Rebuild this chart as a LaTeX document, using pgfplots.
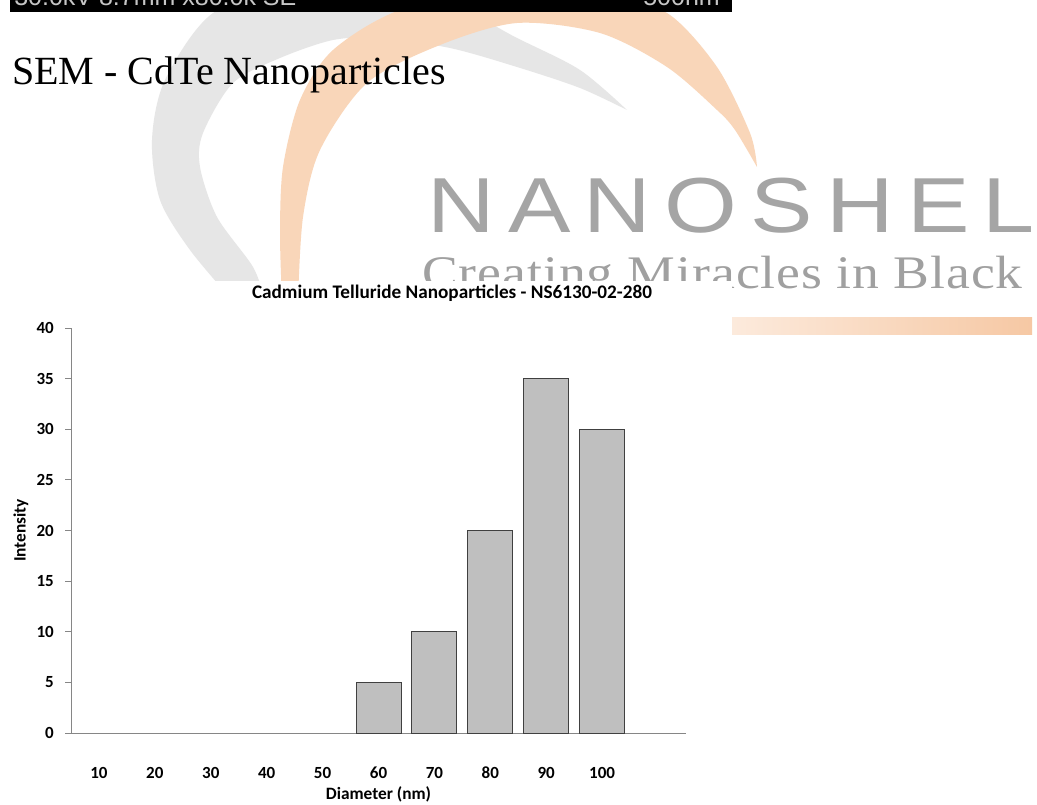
\documentclass[border=0pt]{standalone}
\usepackage{fontspec}
\setmainfont{Liberation Serif}
\newfontfamily\calfont{Carlito}
\newfontfamily\arialfont{Liberation Sans}
\newfontfamily\wmfont[LetterSpace=17,FakeStretch=1.2]{Liberation Sans}
\newfontfamily\wmserif[LetterSpace=2,FakeStretch=1.15]{Liberation Serif}
\usepackage{pgfplots}
\pgfplotsset{compat=1.18}
\definecolor{barfill}{HTML}{BFBFBF}
\definecolor{bardraw}{HTML}{404040}
\definecolor{axisgray}{HTML}{868686}
\definecolor{wmgray}{HTML}{A5A5A5}
\definecolor{wmgrayb}{HTML}{A0A0A0}
\definecolor{orL}{HTML}{FCEADC}
\definecolor{orR}{HTML}{F6C8A4}
\definecolor{swO}{HTML}{F9D6B9}
\definecolor{swG}{HTML}{E6E6E6}
\pgfplotstableread{
d v
0 0
1 0
2 0
3 0
4 0
5 5
6 10
7 20
8 35
9 30
}\cdte
\begin{document}
\begin{tikzpicture}
\begin{scope}[x=0.75pt,y=-0.75pt]
\path[use as bounding box] (0,0) rectangle (1037,805);
\fill[white] (0,0) rectangle (1037,805);
% swooshes of the logo
\fill[swG] plot[smooth] coordinates {(232,300) (190,250) (160,200) (152,140) (165,80) (213,13) (300,-15) (420,-10) (517,38) (580,70) (627,110)}
  -- plot[smooth] coordinates {(627,110) (580,88) (517,67) (450,48) (380,38) (333,40) (280,58) (233,83) (203,133) (200,167) (217,217) (253,267) (265,300)} -- cycle;
\fill[swO] plot[smooth] coordinates {(282,300) (280,233) (283,167) (300,100) (333,50) (400,10) (500,-8) (600,-5) (667,13) (717,67) (750,133) (757,167)}
  -- plot[smooth] coordinates {(757,167) (735,130) (717,110) (667,67) (600,33) (517,23) (440,45) (367,83) (320,150) (303,217) (298,300)} -- cycle;
% SEM bar
\fill[black] (10,0) rectangle (732,12);
\begin{scope}
\clip (10,0) rectangle (732,12);
\node[anchor=base west, inner sep=0, text=gray!45!white, font=\arialfont\fontsize{18.75}{20}\selectfont] at (14,6) {30.0kV 8.7mm x80.0k SE};
\node[anchor=base east, inner sep=0, text=gray!45!white, font=\arialfont\fontsize{18.75}{20}\selectfont] at (720,6) {500nm};
\end{scope}
\node[anchor=base west, inner sep=0, font=\fontsize{30}{31}\selectfont] at (12,85) {SEM - CdTe Nanoparticles};
% watermark
\node[anchor=base west, inner sep=0, text=wmgray, font=\wmfont\fontsize{58.5}{59}\selectfont] at (427,233) {NANOSHEL};
\node[anchor=base west, inner sep=0, text=wmgrayb, font=\wmserif\fontsize{35}{36}\selectfont] at (422,288) {Creating Miracles in Black};
\shade[left color=orL, right color=orR] (732,317) rectangle (1032,334);
% chart area
\fill[white] (0,281) rectangle (732,805);
\node[anchor=base, inner sep=0, font=\calfont\bfseries\fontsize{14.4}{15}\selectfont] at (452,298) {Cadmium Telluride Nanoparticles - NS6130-02-280};
\end{scope}
\begin{axis}[
  at={(53.25pt,-549.75pt)}, anchor=south west,
  scale only axis, width=461.25pt, height=303.75pt,
  xmin=-0.5, xmax=10.5, ymin=0, ymax=40,
  axis x line*=bottom, axis y line*=left,
  axis line style={draw=axisgray, line width=0.75pt},
  xtick={0,...,9}, xticklabels={10,20,30,40,50,60,70,80,90,100},
  ytick={0,5,...,40},
  tick align=outside,
  x tick style={draw=none},
  y tick style={draw=axisgray, line width=0.75pt},
  major tick length=4.5pt,
  /pgf/number format/assume math mode=true,
  ticklabel style={font=\calfont\bfseries\fontsize{12.75}{13}\selectfont, inner sep=0pt},
  xticklabel style={anchor=base, yshift=-29.25pt},
  yticklabel style={anchor=east, xshift=-8.25pt},
  xlabel={Diameter (nm)}, ylabel={Intensity},
  label style={font=\calfont\bfseries\fontsize{13}{14}\selectfont, inner sep=0pt},
  xlabel style={at={(axis description cs:0.5,-0.1654)}, anchor=base},
  ylabel style={at={(axis description cs:-0.0813,0.5)}, anchor=center},
  unbounded coords=discard,
  clip=false,
]
\addplot[ybar, bar width=33.75pt, fill=barfill, draw=bardraw, line width=0.75pt,
  y filter/.expression={y==0 ? nan : y}] table[x=d, y=v] {\cdte};
\end{axis}
\end{tikzpicture}
\end{document}
